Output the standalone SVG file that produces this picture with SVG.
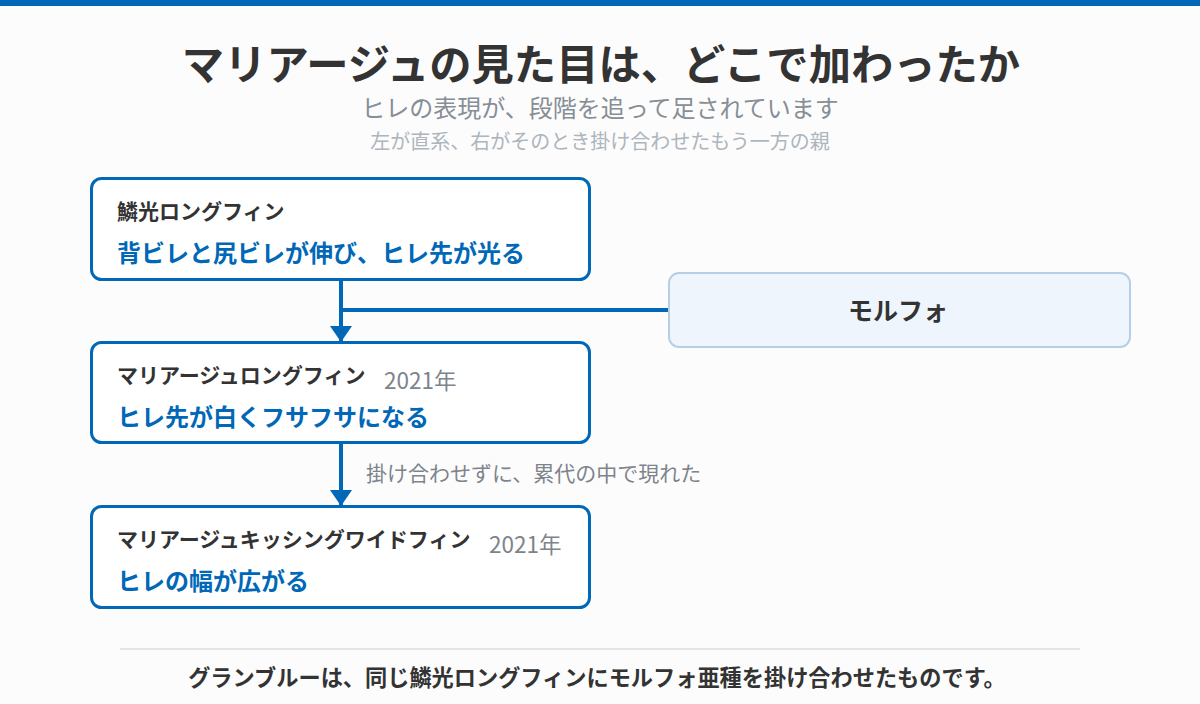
<svg xmlns="http://www.w3.org/2000/svg" width="1200" height="704" viewBox="0 0 1200 704">
<defs>
<style>
text{font-family:"Noto Sans CJK JP","Noto Sans",sans-serif;}
.title{font-size:42.3px;font-weight:700;fill:#333;text-anchor:middle;}
.sub{font-size:24px;fill:#868e96;text-anchor:middle;}
.sub2{font-size:20px;fill:#adb5bd;text-anchor:middle;}
.node{fill:#fff;stroke:#0068b7;stroke-width:3;}
.parent{fill:#eef5fd;stroke:#b7cfe5;stroke-width:2;}
.name{font-size:21px;font-weight:700;fill:#333;}
.year{font-size:22.5px;fill:#7d848c;}
.desc{font-size:24px;font-weight:700;fill:#0068b7;}
.edge{stroke:#0068b7;stroke-width:4;fill:none;}
.lbl{font-size:21px;fill:#7d848c;}
.foot{font-size:22.2px;font-weight:700;fill:#333;text-anchor:middle;}
</style>
<marker id="arr" viewBox="0 0 16 22" refX="16" refY="11" markerWidth="4" markerHeight="5.5" markerUnits="strokeWidth" orient="auto">
<path d="M0,0 L16,11 L0,22 Z" fill="#0068b7"/>
</marker>
</defs>
<rect width="1200" height="704" fill="#fcfcfc"/>
<rect width="1200" height="6" fill="#0068b7"/>
<text class="title" x="601" y="80">マリアージュの見た目は、どこで加わったか</text>
<text class="sub" x="600" y="117">ヒレの表現が、段階を追って足されています</text>
<text class="sub2" x="600" y="149">左が直系、右がそのとき掛け合わせたもう一方の親</text>

<g id="connectors">
<line class="edge" x1="341" y1="280" x2="341" y2="342" marker-end="url(#arr)"/>
<line class="edge" x1="341" y1="310" x2="669" y2="310"/>
<line class="edge" x1="341" y1="443" x2="341" y2="506" marker-end="url(#arr)"/>
<text class="lbl" x="366" y="481">掛け合わせずに、累代の中で現れた</text>
</g>

<g id="node-rinkou">
<rect class="node" x="91.5" y="178.5" width="498" height="101" rx="10"/>
<text class="name" x="117" y="219">鱗光ロングフィン</text>
<text class="desc" x="117" y="262">背ビレと尻ビレが伸び、ヒレ先が光る</text>
</g>

<g id="node-morpho">
<rect class="parent" x="669" y="273" width="461" height="74" rx="10"/>
<text class="name" x="898" y="320" style="font-size:25px;text-anchor:middle">モルフォ</text>
</g>

<g id="node-mariage">
<rect class="node" x="91.5" y="342.5" width="498" height="100" rx="10"/>
<text class="name" x="117" y="383">マリアージュロングフィン</text>
<text class="year" x="384" y="389">2021年</text>
<text class="desc" x="117" y="426">ヒレ先が白くフサフサになる</text>
</g>

<g id="node-kissing">
<rect class="node" x="91.5" y="506.5" width="498" height="101" rx="10"/>
<text class="name" x="117" y="547">マリアージュキッシングワイドフィン</text>
<text class="year" x="489" y="553">2021年</text>
<text class="desc" x="117" y="590">ヒレの幅が広がる</text>
</g>

<line x1="120" y1="649" x2="1080" y2="649" stroke="#e1e5ea" stroke-width="2"/>
<text class="foot" x="597" y="686">グランブルーは、同じ鱗光ロングフィンにモルフォ亜種を掛け合わせたものです。</text>
</svg>
